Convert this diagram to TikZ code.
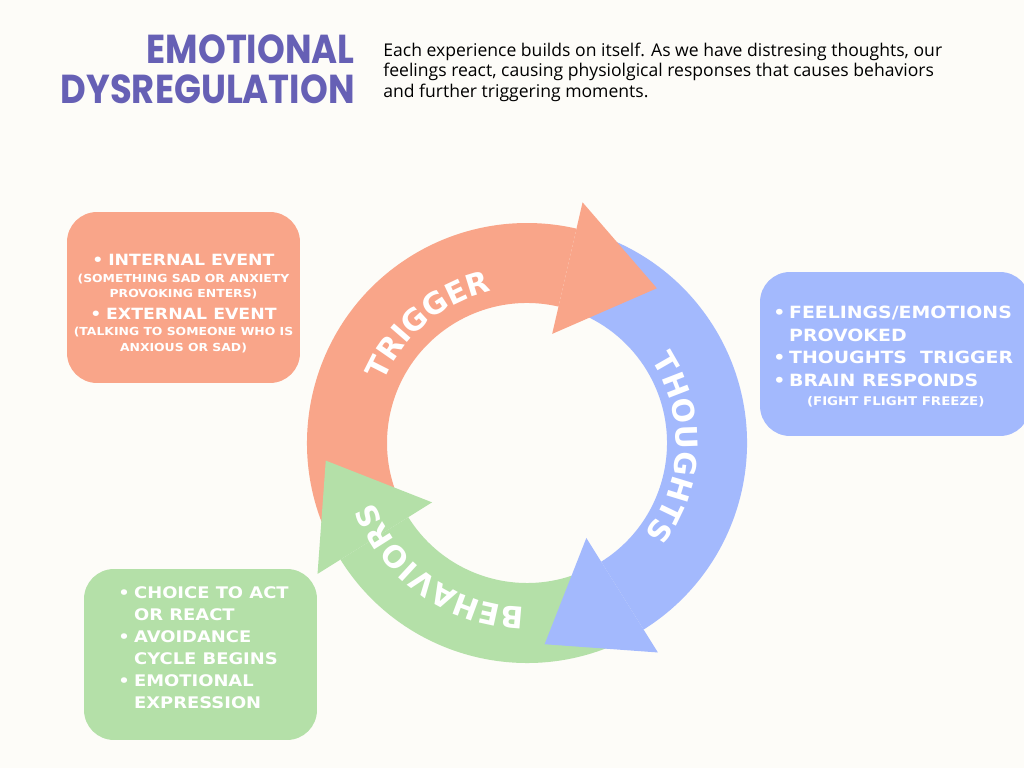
\documentclass[tikz,border=0pt]{standalone}
\usepackage{fontspec}
\setmainfont{Open Sans}
\newfontfamily\headfont{Poppins}[FakeStretch=0.875]
\newfontfamily\cardfont{DejaVu Sans}[FakeStretch=1.12]
\newfontfamily\ringfont{DejaVu Sans}
\usetikzlibrary{calc,positioning,decorations.text}
\definecolor{paper}{HTML}{FDFCF8}
\definecolor{plum}{HTML}{6660B5}
\definecolor{coral}{HTML}{F9A589}
\definecolor{sky}{HTML}{A3B9FD}
\definecolor{mint}{HTML}{B4E0A8}
\newcommand\bul{\makebox[9pt][l]{•}}
\newcommand\nobul{\hspace*{9pt}}
\newcommand\fineprint[1][6.3]{\fontsize{#1}{8.8}\selectfont}
\newcommand\ringsize{\ringfont\bfseries\fontsize{17}{17}\selectfont}

\begin{document}
\begin{tikzpicture}[x=0.02cm, y=0.02cm,
  card/.style={rounded corners=0.6cm, inner sep=0pt},
  cardtext/.style={text=white, inner sep=0pt, font=\cardfont\bfseries\fontsize{9.6}{12.5}\selectfont},
  ringtext/.style={decorate, decoration={text along path, text align=center, text color=white}}]
  \fill[paper] (0,0) rectangle (1024,768);
  \useasboundingbox (0,0) rectangle (1024,768);

  % heading and blurb
  \node[anchor=base east, plum, inner sep=0pt, font=\headfont\bfseries\fontsize{23}{23}\selectfont] (head1) at (355,704.7) {EMOTIONAL};
  \node[anchor=base east, plum, inner sep=0pt, font=\headfont\bfseries\fontsize{23}{23}\selectfont] (head2) at (355,664.7) {DYSREGULATION};
  \node[anchor=north west, align=left, inner sep=0pt, font=\fontsize{10}{11.6}\selectfont] (blurb) at (383,725.5)
    {Each experience builds on itself. As we have distresing thoughts, our\\
     feelings react, causing physiolgical responses that causes behaviors\\
     and further triggering moments.};

  % the ring of three arrows
  \begin{scope}[shift={(527,325)}]
    \foreach \a/\b/\c in {211/77/coral, 76/-58/sky, -63/-148/mint}
      \fill[\c] (\a:220) arc[start angle=\a, end angle=\b, radius=220]
        -- (\b:140) arc[start angle=\b, end angle=\a, radius=140] -- cycle;
    \foreach \b/\c in {77/coral, -58/sky, 212/mint}
      \fill[\c] (\b:247) -- (\b-27:202) -- (\b:112) -- cycle;
    \path[ringtext, decoration={text={|\ringsize|TRIGGER}}]
      (190:156) arc[start angle=190, end angle=70, radius=156];
    \path[ringtext, decoration={text={|\ringsize|THOUGHTS}}]
      (58:149) arc[start angle=58, end angle=-62, radius=149];
    \path[ringtext, decoration={text={|\ringsize|BEHAVIORS}}]
      (295:164) arc[start angle=295, end angle=175, radius=164];
  \end{scope}

  % cards
  \node[card, fill=coral, minimum width=4.66cm, minimum height=3.42cm] (eventbox) at (183.5,470.5) {};
  \node[cardtext, align=center, font=\cardfont\bfseries\fontsize{8.8}{8.8}\selectfont] (eventtext) at (183.5,464.5)
    {\bul INTERNAL EVENT\\[0.7pt]
     {\fineprint (SOMETHING SAD OR ANXIETY}\\
     {\fineprint PROVOKING ENTERS)}\\[3.4pt]
     \bul EXTERNAL EVENT\\[0.7pt]
     {\fineprint (TALKING TO SOMEONE WHO IS}\\
     {\fineprint ANXIOUS OR SAD)}};

  \node[card, fill=sky, minimum width=5.4cm, minimum height=3.28cm] (brainbox) at (895,414) {};
  \node[cardtext, align=left, anchor=west, font=\cardfont\bfseries\fontsize{9.6}{12.75}\selectfont] (braintext) at (773,411.5)
    {\bul FEELINGS/EMOTIONS\\
     \nobul PROVOKED\\
     \bul THOUGHTS\ \ TRIGGER\\
     \bul BRAIN RESPONDS\\[-2pt]
     \hspace*{16.5pt}{\fineprint[6.8] (FIGHT FLIGHT FREEZE)}};

  \node[card, fill=mint, minimum width=4.66cm, minimum height=3.42cm] (actbox) at (200.5,113.5) {};
  \node[cardtext, align=left, anchor=west, font=\cardfont\bfseries\fontsize{9.1}{12.5}\selectfont] (acttext) at (118,120)
    {\bul CHOICE TO ACT\\
     \nobul OR REACT\\
     \bul AVOIDANCE\\
     \nobul CYCLE BEGINS\\
     \bul EMOTIONAL\\
     \nobul EXPRESSION};
\end{tikzpicture}
\end{document}
